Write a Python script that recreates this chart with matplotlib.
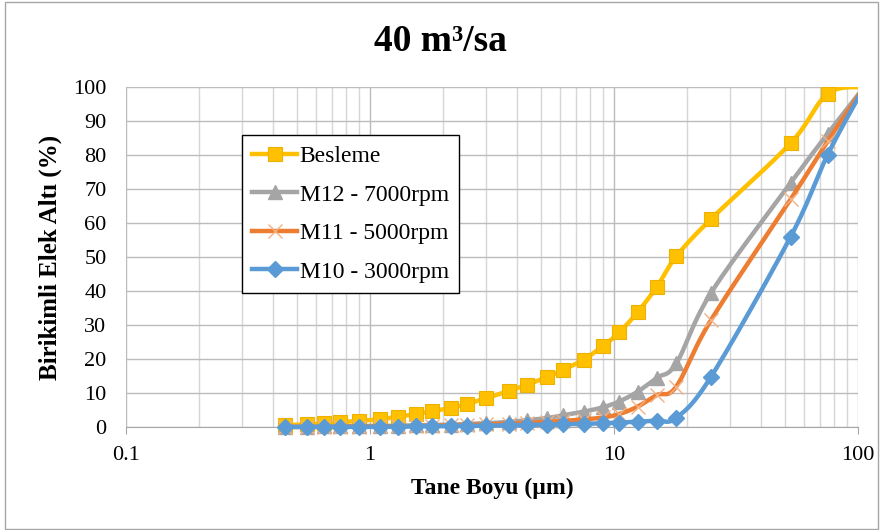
import numpy as np
import matplotlib
matplotlib.use('Agg')
import matplotlib.pyplot as plt
from matplotlib.lines import Line2D
from matplotlib.patches import Rectangle

plt.rcParams['font.family'] = ['Liberation Serif', 'DejaVu Serif']

# tane boyu (um) - last point lies past the axis end
size_um = [0.45, 0.55, 0.65, 0.75, 0.9, 1.1, 1.3, 1.55, 1.8, 2.15, 2.5, 3, 3.7, 4.4,
           5.3, 6.2, 7.5, 9, 10.5, 12.5, 15, 18, 25, 53, 75, 106]
besleme = [0.5, 0.8, 1.1, 1.4, 1.8, 2.3, 3.0, 3.8, 4.7, 5.6, 6.8, 8.5, 10.6, 12.4,
           14.7, 16.8, 19.8, 23.8, 27.8, 33.8, 41.3, 50.2, 61.2, 83.5, 98, 100]
m12 = [0.1, 0.1, 0.2, 0.2, 0.3, 0.3, 0.4, 0.5, 0.6, 0.7, 0.9, 1.1, 1.5, 2.0,
       2.6, 3.5, 4.5, 5.8, 7.5, 10.4, 14.5, 18.7, 39.5, 71.8, 86.2, 100]
m11 = [0, 0, 0, 0.1, 0.1, 0.2, 0.2, 0.3, 0.4, 0.5, 0.6, 0.8, 1.0, 1.2,
       1.5, 1.8, 2.2, 2.8, 3.8, 6.0, 9.4, 11.9, 31.5, 67, 84, 100]
m10 = [0, 0, 0, 0, 0, 0.1, 0.1, 0.2, 0.2, 0.3, 0.3, 0.4, 0.5, 0.6,
       0.7, 0.8, 0.9, 1.1, 1.3, 1.6, 1.9, 2.7, 14.8, 56, 80, 100]

x_ticks = [0.1, 1, 10, 100]
x_tick_labels = ['0.1', '1', '10', '100']
y_ticks = list(range(0, 101, 10))


def smooth(x, y, n=25):
    # excel-like smoothed line (catmull-rom bezier in log-x space)
    lx = np.log10(x)
    y = np.asarray(y, float)
    px, py = [], []
    t = np.linspace(0, 1, n)
    for i in range(len(lx) - 1):
        i0 = max(i - 1, 0)
        i3 = min(i + 2, len(lx) - 1)
        c1x = lx[i] + (lx[i + 1] - lx[i0]) / 6
        c1y = y[i] + (y[i + 1] - y[i0]) / 6
        c2x = lx[i + 1] - (lx[i3] - lx[i]) / 6
        c2y = y[i + 1] - (y[i3] - y[i]) / 6
        bx = (1-t)**3*lx[i] + 3*(1-t)**2*t*c1x + 3*(1-t)*t**2*c2x + t**3*lx[i+1]
        by = (1-t)**3*y[i] + 3*(1-t)**2*t*c1y + 3*(1-t)*t**2*c2y + t**3*y[i+1]
        px.extend(bx)
        py.extend(by)
    return 10 ** np.array(px), np.array(py)


fig = plt.figure(figsize=(8.81, 5.30), dpi=100)
ax = fig.add_axes([126/881, 103/530, 732/881, 340/530])
ax.set_xscale('log')
ax.set_xlim(0.1, 100)
ax.set_ylim(0, 100)

clip = Rectangle((0, -0.05), 1, 1.05, transform=ax.transAxes, visible=False)
ax.add_patch(clip)

series = [
    ('Besleme', besleme, '#FFC000', dict(marker='s', ms=10, mfc='#FFC000', mec='#EDB200', mew=0.8)),
    ('M12 - 7000rpm', m12, '#A5A5A5', dict(marker='^', ms=9.5, mfc='#A5A5A5', mec='#A5A5A5')),
    ('M11 - 5000rpm', m11, '#ED7D31', dict(marker='x', ms=10, mec='#F4B183', mew=1.0)),
    ('M10 - 3000rpm', m10, '#5B9BD5', dict(marker='D', ms=8, mfc='#5B9BD5', mec='#5B9BD5')),
]

sx = np.array(size_um)
handles = []
for k, (name, vals, col, mk) in enumerate(series):
    xs, ys = smooth(size_um, vals)
    ln, = ax.plot(xs, ys, color=col, lw=3.2, zorder=3 + k, solid_capstyle='round')
    ln.set_clip_path(clip)
    keep = sx <= 100
    ax.plot(sx[keep], np.array(vals)[keep], ls='none', zorder=3 + k, clip_on=False, **mk)
    handles.append(Line2D([], [], color=col, lw=3.2, **mk))

ax.set_xticks(x_ticks)
ax.set_xticklabels(x_tick_labels)
ax.set_yticks(y_ticks)
ax.tick_params(axis='x', which='major', length=5, color='#a6a6a6', labelsize=16, pad=9)
ax.tick_params(axis='x', which='minor', length=0)
ax.tick_params(axis='y', length=0, labelsize=16, pad=14)

ax.grid(True, which='major', color='#bcbcbc', lw=1)
ax.grid(True, which='minor', axis='x', color='#d6d6d6', lw=1)
ax.set_axisbelow(True)
for s in ['top', 'right', 'left']:
    ax.spines[s].set_visible(False)
ax.spines['bottom'].set_color('#a6a6a6')

ax.set_xlabel('Tane Boyu (µm)', fontsize=17, fontweight='bold', labelpad=9)
ax.set_ylabel('Birikimli Elek Altı (%)', fontsize=18, fontweight='bold', labelpad=8)
fig.text(0.5, 0.922, '40 m³/sa', ha='center', va='center', fontsize=27, fontweight='bold')

leg = ax.legend(handles, [s[0] for s in series], loc='upper left',
                bbox_to_anchor=(0.158, 0.859), borderaxespad=0, fontsize=17, frameon=True,
                fancybox=False, edgecolor='black', framealpha=1,
                handlelength=1.9, handletextpad=0.1, labelspacing=0.72,
                borderpad=0.45)
leg.get_frame().set_linewidth(1)
leg.set_zorder(10)

fig.patches.append(Rectangle((5/881, 1/530), 873/881, 527/530, transform=fig.transFigure,
                             fill=False, ec='#a6a6a6', lw=1))

fig.savefig('out.png', dpi=100)
